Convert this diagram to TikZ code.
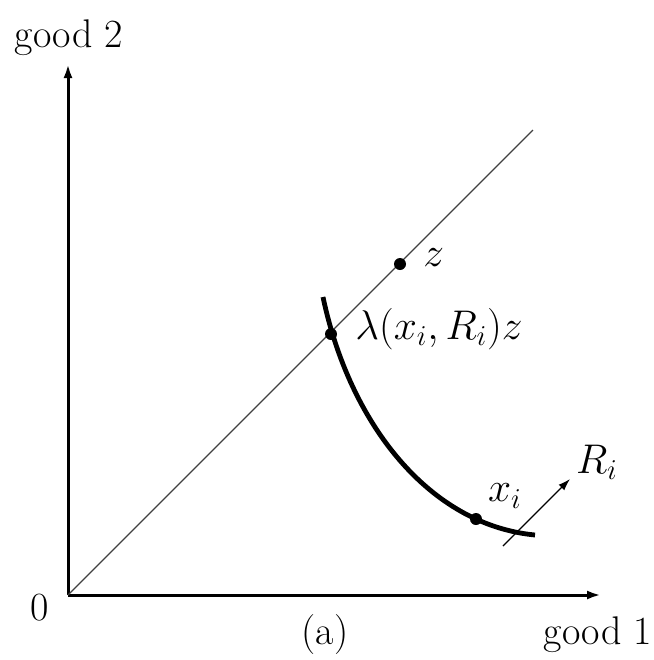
\documentclass[tikz,border=0pt]{standalone}
\usetikzlibrary{arrows.meta}
\begin{document}
\begin{tikzpicture}[x=0.5pt,y=-0.5pt,
  lbl/.style={font=\fontsize{20}{24}\selectfont, inner sep=0pt},
  dotm/.style={circle, fill=black, inner sep=0pt, minimum size=6pt},
  axis/.style={line width=1.5pt, -{Latex[length=7pt,width=4.5pt]}},
  diag/.style={line width=0.6pt, black!75},
  icurve/.style={line width=2.4pt, line cap=butt},
  rarrow/.style={line width=0.6pt, -{Latex[length=6pt,width=4pt]}}]
\useasboundingbox (0,0) rectangle (654,660);
\coordinate (O) at (68,595);
\coordinate (Ytop) at (68,64);
\coordinate (Xend) at (601,595);
\coordinate (Dend) at (533,130);
\coordinate (Rs) at (503,546);
\coordinate (Re) at (570,479);
\coordinate (Ctop) at (323,297);
\coordinate (Cend) at (535,535);
% axes
\draw[axis] (O) -- (Ytop);
\draw[axis] (O) -- (Xend);
% diagonal
\draw[diag] (O) -- (Dend);
% indifference curve
\draw[icurve] (Ctop) .. controls (350,425) and (430,525) .. (Cend);
% R_i arrow
\draw[rarrow] (Rs) -- (Re);
% dots
\node[dotm] (z) at (400,264) {};
\node[dotm] (lam) at (331,334) {};
\node[dotm] (xi) at (476,519) {};
% labels
\node[lbl, anchor=west] (zl) at (423,258) {$z$};
\node[lbl, anchor=west] (laml) at (355,329) {$\lambda(x_i,R_i)z$};
\node[lbl] (xil) at (505,496) {$x_i$};
\node[lbl] (Ril) at (597,462) {$R_i$};
\node[lbl] (g2) at (69,38) {good 2};
\node[lbl] (zero) at (40,608) {0};
\node[lbl] (g1) at (598,635) {good 1};
\node[lbl] (a) at (325,635) {(a)};
\end{tikzpicture}
\end{document}
